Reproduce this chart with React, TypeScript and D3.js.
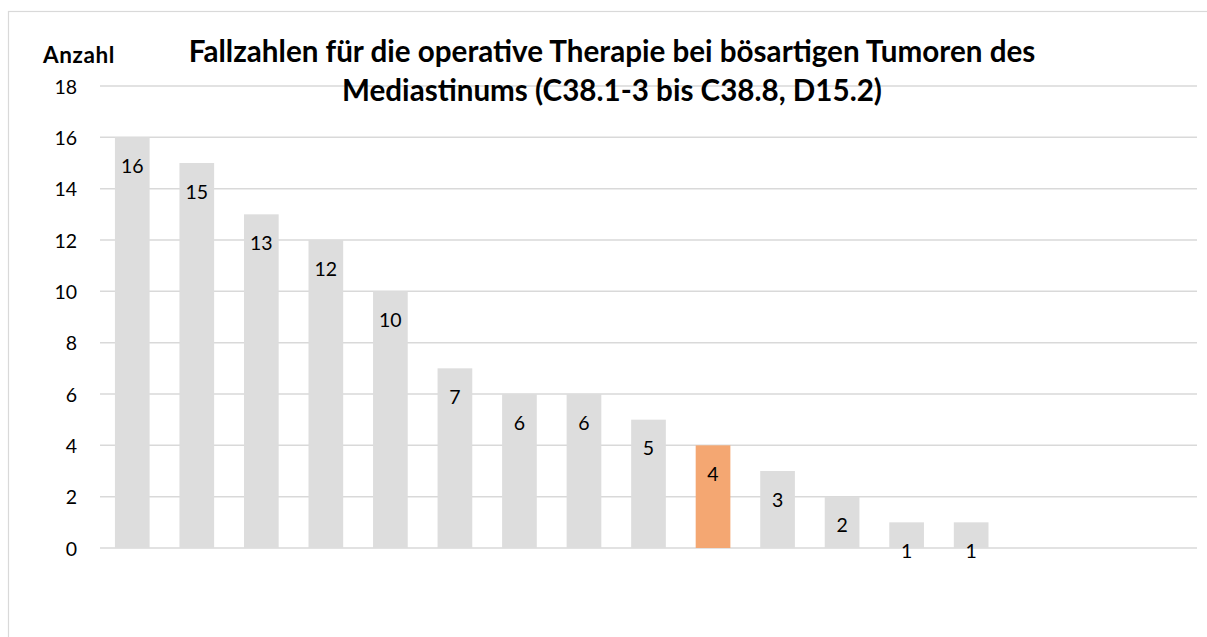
import React from "react";
import * as d3 from "d3";

const categories = ["1","2","3","4","5","6","7","8","9","10","11","12","13","14","15","16","17"];
const values: (number | null)[] = [16, 15, 13, 12, 10, 7, 6, 6, 5, 4, 3, 2, 1, 1, null, null, null];
const highlightIndex = 9;
const yTicks = [0, 2, 4, 6, 8, 10, 12, 14, 16, 18];
const titleLines = [
  "Fallzahlen für die operative Therapie bei bösartigen Tumoren des",
  "Mediastinums (C38.1-3 bis C38.8, D15.2)",
];
const yAxisTitle = "Anzahl";

const W = 1207;
const H = 637;
const FONT = "Lato, 'Open Sans', sans-serif";

export default function App() {
  const x = d3
    .scaleBand<string>()
    .domain(categories)
    .range([100, 1197])
    .paddingInner(0.4625)
    .paddingOuter(0.23125);
  const y = d3.scaleLinear().domain([0, 18]).range([548, 86]);

  return (
    <svg
      width={W}
      height={H}
      style={{ position: "absolute", left: 0, top: 0, background: "#fff" }}
    >
      <rect x={8.5} y={11.5} width={1220} height={650} fill="#fff" stroke="#d9d9d9" strokeWidth={1.2} />
      {yTicks.map((t) => (
        <g key={t}>
          <line x1={100} x2={1197} y1={y(t)} y2={y(t)} stroke="#d9d9d9" strokeWidth={1.5} />
          <text
            x={77}
            y={y(t)}
            textAnchor="end"
            dominantBaseline="central"
            fontFamily={FONT}
            fontSize={19.5}
            fill="#000"
          >
            {t}
          </text>
        </g>
      ))}
      {categories.map((c, i) => {
        const v = values[i];
        if (v == null) return null;
        const x0 = x(c)!;
        return (
          <g key={c}>
            <rect
              x={x0}
              y={y(v)}
              width={x.bandwidth()}
              height={y(0) - y(v)}
              fill={i === highlightIndex ? "#f4a772" : "#dddddd"}
            />
            <text
              x={x0 + x.bandwidth() / 2}
              y={y(v) + 35.5}
              textAnchor="middle"
              fontFamily={FONT}
              fontSize={19.5}
              fill="#000"
            >
              {v}
            </text>
          </g>
        );
      })}
      <text x={43} y={63} fontFamily={FONT} fontWeight={700} fontSize={22.5} letterSpacing={0.6} fill="#000">
        {yAxisTitle}
      </text>
      {titleLines.map((l, i) => (
        <text
          key={i}
          x={612}
          y={62 + i * 39}
          textAnchor="middle"
          fontFamily={FONT}
          fontWeight={700}
          fontSize={29.6}
          fill="#000"
        >
          {l}
        </text>
      ))}
    </svg>
  );
}
